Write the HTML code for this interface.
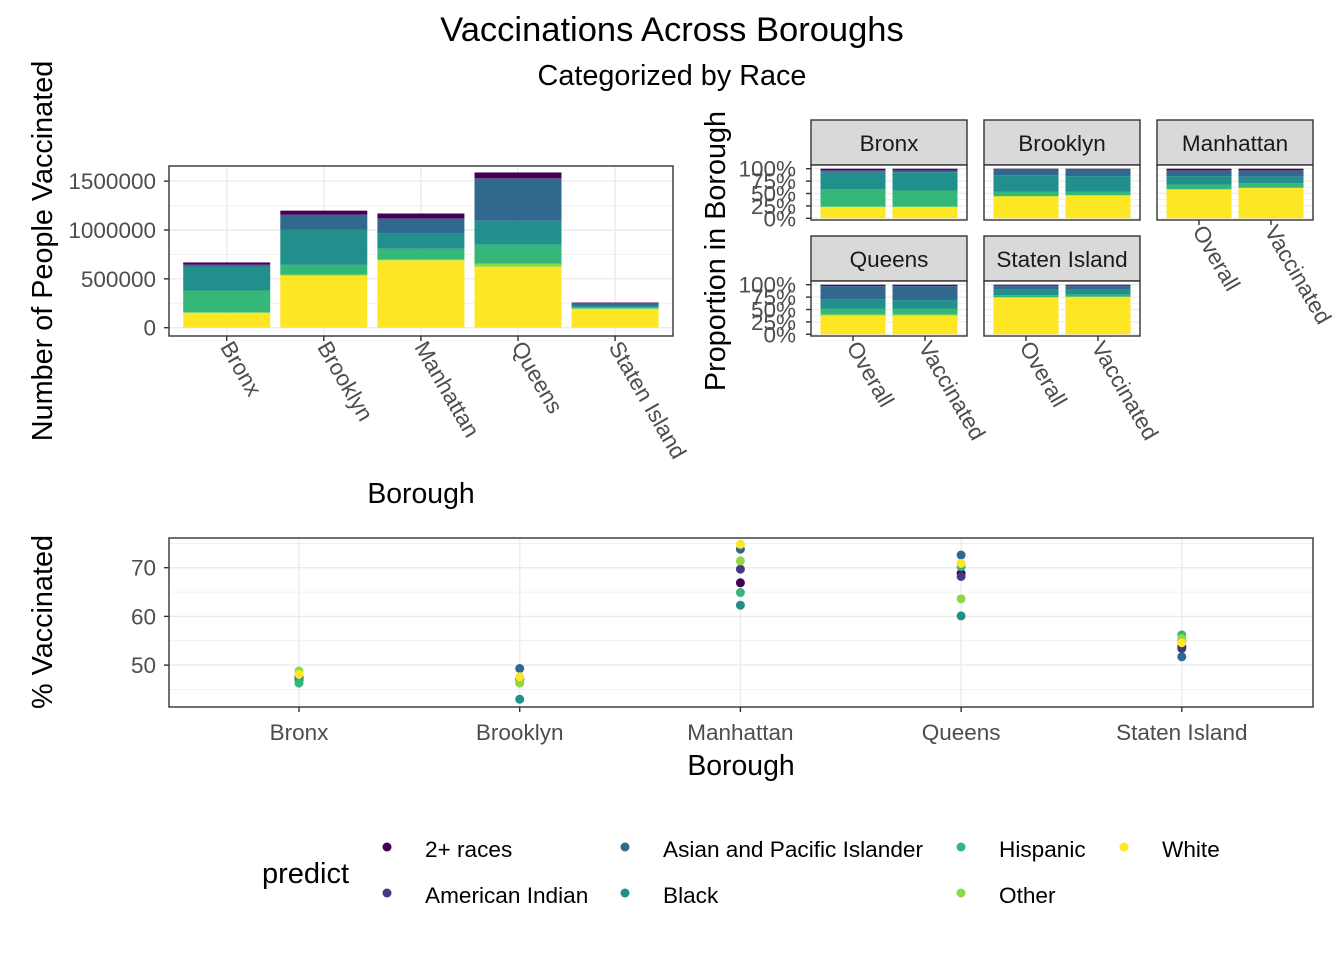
<!DOCTYPE html>
<html><head><meta charset="utf-8">
<style>
body{margin:0;background:#fff;}
svg{display:block;font-family:"Liberation Sans",Arial,sans-serif;}
.tick{fill:#4d4d4d;font-size:22.5px;}
</style></head>
<body>
<svg id="chart" width="1344" height="960" viewBox="0 0 1344 960">
<text x="672" y="41" text-anchor="middle" font-size="34.5" fill="#000">Vaccinations Across Boroughs</text>
<text x="672" y="85" text-anchor="middle" font-size="28.8" fill="#000">Categorized by Race</text>
<g id="g1"></g>
<g id="g2"></g>
<g id="g3"></g>
<g id="g4"></g>
</svg>
<script>
const races = ["White","Other","Hispanic","Black","Asian and Pacific Islander","American Indian","2+ races"];
const raceColors = ["#FDE725","#8FD744","#35B779","#21908C","#31688E","#443A83","#440154"];
const boroughs = ["Bronx","Brooklyn","Manhattan","Queens","Staten Island"];
// counts stacked bottom-up in order of races
const countBronx = [153000,3000,225000,245000,12000,10000,20000];
const countBrooklyn = [534000,10000,99000,358000,153000,3000,41000];
const countManhattan = [689000,10000,109000,154000,154000,2000,51000];
const countQueens = [624000,31000,194000,246000,430000,3000,61000];
const countStaten = [194000,2000,15000,16000,27000,1000,4000];
const countTicks = [0,500000,1000000,1500000];
// proportions (cumulative tops) overall / vaccinated
const propOverall = {
 "Bronx":[0.23,0.235,0.59,0.92,0.95,0.97,1],
 "Brooklyn":[0.44,0.45,0.54,0.87,0.98,0.985,1],
 "Manhattan":[0.58,0.59,0.68,0.85,0.96,0.965,1],
 "Queens":[0.38,0.40,0.52,0.71,0.97,0.975,1],
 "Staten Island":[0.74,0.75,0.79,0.90,0.97,0.98,1]};
const propVaccinated = {
 "Bronx":[0.23,0.235,0.56,0.93,0.955,0.975,1],
 "Brooklyn":[0.46,0.47,0.54,0.85,0.98,0.985,1],
 "Manhattan":[0.61,0.62,0.71,0.84,0.96,0.965,1],
 "Queens":[0.38,0.40,0.52,0.69,0.97,0.975,1],
 "Staten Island":[0.75,0.76,0.80,0.90,0.97,0.98,1]};
const propTicks = ["0%","25%","50%","75%","100%"];
// % vaccinated per borough per race (order of races)
const pctBronx = [48.1,48.8,46.3,46.9,47.0,47.3,47.6];
const pctBrooklyn = [47.6,46.3,47.0,43.0,49.3,47.2,47.0];
const pctManhattan = [74.8,71.4,64.9,62.3,73.8,69.7,66.9];
const pctQueens = [70.9,63.6,70.2,60.1,72.6,68.2,68.8];
const pctStaten = [54.6,55.5,56.2,54.8,51.7,53.4,53.8];
const pctTicks = [50,60,70];

const NS="http://www.w3.org/2000/svg";
function mk(parent,tag,attrs,text){const e=document.createElementNS(NS,tag);for(const k in attrs)e.setAttribute(k,attrs[k]);if(text!==undefined)e.textContent=text;parent.appendChild(e);return e;}

// ---------- Chart 1 ----------
const g1=document.getElementById('g1');
const c1={l:169,r:673,t:166,b:336};
const y1=v=>327.7-v*0.0000977;
const x1=i=>226.7+i*97.1;
const counts=[countBronx,countBrooklyn,countManhattan,countQueens,countStaten];
mk(g1,'rect',{x:c1.l,y:c1.t,width:c1.r-c1.l,height:c1.b-c1.t,fill:'#fff'});
[250000,750000,1250000].forEach(v=>{if(y1(v)>c1.t)mk(g1,'line',{x1:c1.l,x2:c1.r,y1:y1(v),y2:y1(v),stroke:'#ebebeb','stroke-width':0.7});});
countTicks.forEach(v=>mk(g1,'line',{x1:c1.l,x2:c1.r,y1:y1(v),y2:y1(v),stroke:'#ebebeb','stroke-width':1.4}));
boroughs.forEach((b,i)=>mk(g1,'line',{x1:x1(i),x2:x1(i),y1:c1.t,y2:c1.b,stroke:'#ebebeb','stroke-width':1.4}));
counts.forEach((arr,i)=>{let cum=0;arr.forEach((v,k)=>{const r=mk(g1,'rect',{x:x1(i)-43.5,y:y1(cum+v),width:87,height:y1(cum)-y1(cum+v),fill:raceColors[k]});


cum+=v;});});
mk(g1,'rect',{x:c1.l,y:c1.t,width:c1.r-c1.l,height:c1.b-c1.t,fill:'none',stroke:'#333','stroke-width':1.4});
countTicks.forEach(v=>{mk(g1,'line',{x1:c1.l-5,x2:c1.l,y1:y1(v),y2:y1(v),stroke:'#333','stroke-width':1.4});
mk(g1,'text',{x:c1.l-13,y:y1(v)+8,'text-anchor':'end',class:'tick'},String(v));});
boroughs.forEach((b,i)=>{mk(g1,'line',{x1:x1(i),x2:x1(i),y1:c1.b,y2:c1.b+5,stroke:'#333','stroke-width':1.4});
mk(g1,'text',{x:0,y:0,class:'tick',transform:`translate(${x1(i)-7},${c1.b+11}) rotate(60)`},b);});
mk(g1,'text',{x:421,y:503,'text-anchor':'middle','font-size':28.4},'Borough');
mk(g1,'text',{x:0,y:0,'font-size':28.8,'text-anchor':'middle',transform:'translate(52,251) rotate(-90)'},'Number of People Vaccinated');

// ---------- Chart 2 ----------
const g2=document.getElementById('g2');
const facets=[["Bronx",811,120],["Brooklyn",984,120],["Manhattan",1157,120],["Queens",811,236],["Staten Island",984,236]];
facets.forEach(([b,px,sy])=>{
 const pt=sy+45, pb=pt+55, w=156;
 const yp=v=>pt+3.7+(1-v)*49.6;
 mk(g2,'rect',{x:px,y:sy,width:w,height:45,fill:'#d9d9d9',stroke:'#333','stroke-width':1.4});
 mk(g2,'text',{x:px+w/2,y:sy+31,'text-anchor':'middle','font-size':22.5,fill:'#1a1a1a'},b);
 mk(g2,'rect',{x:px,y:pt,width:w,height:55,fill:'#fff'});
 [0,0.125,0.25,0.375,0.5,0.625,0.75,0.875,1].forEach((v,k)=>mk(g2,'line',{x1:px,x2:px+w,y1:yp(v),y2:yp(v),stroke:'#ebebeb','stroke-width':k%2?0.6:1.2}));
 [propOverall[b],propVaccinated[b]].forEach((arr,j)=>{const cx=px+42+j*72;let prev=0;
  arr.forEach((v,k)=>{const r=mk(g2,'rect',{x:cx-32.5,y:yp(v),width:65,height:yp(prev)-yp(v),fill:raceColors[k]});
  
  prev=v;});});
 mk(g2,'rect',{x:px,y:pt,width:w,height:55,fill:'none',stroke:'#333','stroke-width':1.4});
 if(px===811){propTicks.forEach((t,k)=>{const v=k/4;mk(g2,'line',{x1:px-5,x2:px,y1:yp(v),y2:yp(v),stroke:'#333','stroke-width':1.4});
  mk(g2,'text',{x:px-15,y:yp(v)+8,'text-anchor':'end',class:'tick'},t);});}
 if(b!=="Bronx"&&b!=="Brooklyn"){["Overall","Vaccinated"].forEach((t,j)=>{const cx=px+42+j*72;
  mk(g2,'line',{x1:cx,x2:cx,y1:pb,y2:pb+5,stroke:'#333','stroke-width':1.4});
  mk(g2,'text',{x:0,y:0,class:'tick',transform:`translate(${cx-7},${pb+11}) rotate(60)`},t);});}
});
mk(g2,'text',{x:0,y:0,'font-size':28.8,'text-anchor':'middle',transform:'translate(725,251) rotate(-90)'},'Proportion in Borough');

// ---------- Chart 3 ----------
const g3=document.getElementById('g3');
const c3={l:169,r:1313,t:538,b:707};
const y3=v=>567.7-(v-70)*4.87;
const x3=i=>299+i*220.7;
const pcts=[pctBronx,pctBrooklyn,pctManhattan,pctQueens,pctStaten];
mk(g3,'rect',{x:c3.l,y:c3.t,width:c3.r-c3.l,height:c3.b-c3.t,fill:'#fff'});
[45,55,65,75].forEach(v=>mk(g3,'line',{x1:c3.l,x2:c3.r,y1:y3(v),y2:y3(v),stroke:'#ebebeb','stroke-width':0.7}));
pctTicks.forEach(v=>mk(g3,'line',{x1:c3.l,x2:c3.r,y1:y3(v),y2:y3(v),stroke:'#ebebeb','stroke-width':1.4}));
boroughs.forEach((b,i)=>mk(g3,'line',{x1:x3(i),x2:x3(i),y1:c3.t,y2:c3.b,stroke:'#ebebeb','stroke-width':1.4}));
const order=[6,5,4,3,2,1,0];
pcts.forEach((arr,i)=>{order.forEach(k=>{const c=mk(g3,'circle',{cx:x3(i),cy:y3(arr[k]),r:4.5,fill:raceColors[k]});
 
 });});
mk(g3,'rect',{x:c3.l,y:c3.t,width:c3.r-c3.l,height:c3.b-c3.t,fill:'none',stroke:'#333','stroke-width':1.4});
pctTicks.forEach(v=>{mk(g3,'line',{x1:c3.l-5,x2:c3.l,y1:y3(v),y2:y3(v),stroke:'#333','stroke-width':1.4});
 mk(g3,'text',{x:c3.l-13,y:y3(v)+8,'text-anchor':'end',class:'tick'},String(v));});
boroughs.forEach((b,i)=>{mk(g3,'line',{x1:x3(i),x2:x3(i),y1:c3.b,y2:c3.b+5,stroke:'#333','stroke-width':1.4});
 mk(g3,'text',{x:x3(i),y:740,'text-anchor':'middle',class:'tick'},b);});
mk(g3,'text',{x:741,y:775,'text-anchor':'middle','font-size':28.4},'Borough');
mk(g3,'text',{x:0,y:0,'font-size':28.8,'text-anchor':'middle',transform:'translate(52,622) rotate(-90)'},'% Vaccinated');

// ---------- Legend ----------
const g4=document.getElementById('g4');
mk(g4,'text',{x:262,y:883,'font-size':29},'predict');
const legPos=[[1124,847],[961,893],[961,847],[625,893],[625,847],[387,893],[387,847]];
races.forEach((r,k)=>{const [lx,ly]=legPos[k];
 const d=mk(g4,'circle',{cx:lx,cy:ly,r:4.5,fill:raceColors[k]});
 
 
 mk(g4,'text',{x:lx+38,y:ly+10,'font-size':22.6},r);});
</script>
</body></html>
